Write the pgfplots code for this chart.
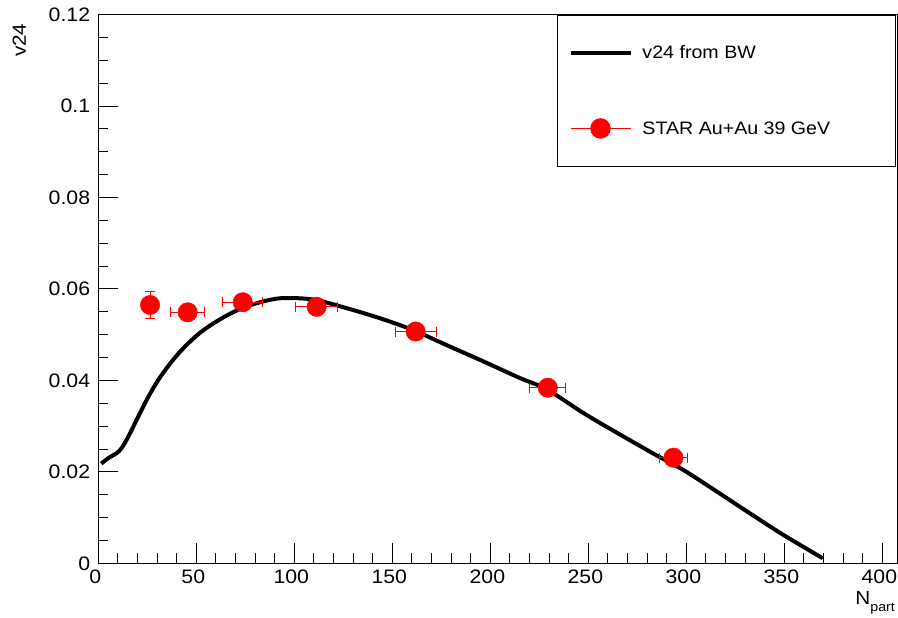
\documentclass[border=0pt]{standalone}
\usepackage{fontspec}
\setmainfont{Liberation Sans}[FakeStretch=1.09]
\usepackage{pgfplots}
\pgfplotsset{compat=1.18}
\usepackage{pgfplotstable}

\pgfplotstableread{
x y
1.5 0.0218
5.1 0.0230
9.4 0.0241
11.9 0.0252
15.3 0.0277
20.4 0.0321
25.5 0.0364
30.6 0.0401
37.4 0.0441
44.2 0.0474
52.7 0.0507
63.0 0.0536
73.2 0.0558
83.4 0.0572
93.6 0.0580
109.7 0.0577
126.7 0.0558
143.7 0.0536
160.7 0.0510
177.8 0.0477
194.7 0.0445
215.2 0.0405
229.0 0.0380
250.0 0.0322
281.5 0.0244
298.5 0.0204
315.5 0.0157
332.5 0.0109
349.5 0.0062
369.6 0.0011
}\bwcurve

\pgfplotstableread{
x y ex ey
26.4 0.0565 3.3 0.0030
45.6 0.0549 8.7 0.0008
73.7 0.0571 10.3 0.0008
111.4 0.0561 10.7 0.0008
161.9 0.0507 10.5 0.0008
229.3 0.0384 9.1 0.0008
293.4 0.0231 7.1 0.0008
}\stardata

\begin{document}
\begin{tikzpicture}
\begin{axis}[
  scale only axis, width=799.4pt, height=548.6pt,
  xmin=0, xmax=407.8, ymin=0, ymax=0.12,
  axis line style={line width=1pt},
  xtick={0,50,100,150,200,250,300,350,400},
  xticklabels={0,50,100,150,200,250,300,350,400},
  minor x tick num=4,
  ytick={0,0.02,0.04,0.06,0.08,0.1,0.12},
  yticklabels={0,0.02,0.04,0.06,0.08,0.1,0.12},
  minor y tick num=3,
  tick pos=left, tick align=inside,
  major tick length=20pt, minor tick length=10pt,
  every tick/.style={black, line width=1pt},
  tick label style={font=\fontsize{19.5}{19.5}\selectfont, inner sep=0pt},
  yticklabel style={xshift=-8pt},
  xticklabel style={yshift=-6pt, xshift=-3pt},
  legend style={at={(axis description cs:0.5738,1)}, anchor=north west,
    draw=black, line width=1pt, inner xsep=0pt, inner ysep=0pt, row sep=0pt,
    font=\fontsize{18}{18}\selectfont, nodes={inner sep=0pt}},
  legend cell align=left,
]
\addplot[black, line width=4pt, smooth, no markers,
  legend image code/.code={\path[draw=none,fill=none] (0pt,0pt) -- (85pt,0pt); \draw[black,line width=4pt] (13pt,0pt) -- (73pt,0pt);}]
  table[x=x,y=y] {\bwcurve};
\addlegendentry{\rule{0pt}{74pt}\raisebox{30.5pt}{\makebox[253pt][l]{v24 from BW}}}
\addplot[red, only marks, mark=*, mark size=9.7pt, mark options={fill=red, draw=red},
  legend image code/.code={\path[draw=none,fill=none] (0pt,0pt) -- (85pt,0pt); \draw[red,line width=1pt] (13pt,0pt) -- (73pt,0pt); \fill[red] (43pt,0pt) circle (9.7pt);},
  error bars/.cd, x dir=both, x explicit, y dir=both, y explicit,
  error bar style={red, line width=1pt},
  error mark options={rotate=90, red, line width=1pt, mark size=5pt}]
  table[x=x,y=y,x error=ex,y error=ey] {\stardata};
\addlegendentry{\rule{0pt}{74pt}\raisebox{30.5pt}{\makebox[253pt][l]{STAR Au+Au 39 GeV}}}
\end{axis}
\node[rotate=90, anchor=base east, inner sep=0pt, font=\fontsize{19}{19}\selectfont] at (-72.3pt,540pt) {v24};
\node[anchor=base east, inner sep=0pt, font=\fontsize{19}{19}\selectfont] at (796.7pt,-41.7pt) {N\raisebox{-7pt}{\fontsize{13}{13}\selectfont part}};
\pgfresetboundingbox
\path[use as bounding box] (-98.3pt,-54.7pt) rectangle (799.7pt,563.3pt);
\end{tikzpicture}
\end{document}
